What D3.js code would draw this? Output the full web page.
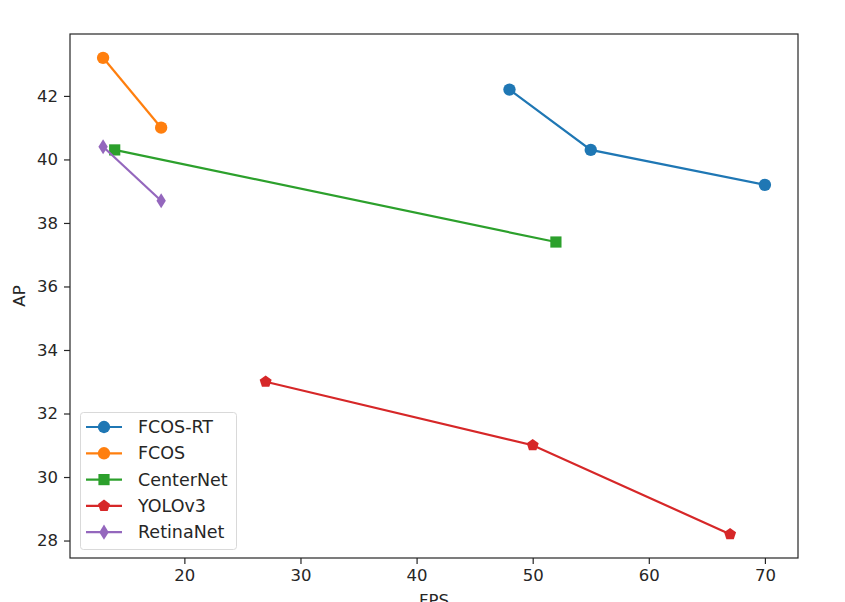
<!DOCTYPE html>
<html><head><meta charset="utf-8">
<script src="https://cdn.jsdelivr.net/npm/d3@7"></script>
<style>body{margin:0;background:#fff}svg{display:block}text{font-family:"DejaVu Sans",sans-serif}</style>
</head><body><svg id="c" width="845" height="602"></svg>
<script>
const seriesNames = ["FCOS-RT","FCOS","CenterNet","YOLOv3","RetinaNet"];
const fcosRT = [[48,42.2],[55,40.3],[70,39.2]];
const fcos = [[13,43.2],[18,41.0]];
const centerNet = [[14,40.3],[52,37.4]];
const yolov3 = [[27,33.0],[50,31.0],[67,28.2]];
const retinaNet = [[13,40.4],[18,38.7]];
const xTicks = [20,30,40,50,60,70];
const yTicks = [28,30,32,34,36,38,40,42];

const colors = ["#1f77b4","#ff7f0e","#2ca02c","#d62728","#9467bd"];
const markers = ["circle","circle","square","pentagon","diamond"];
const data = [fcosRT,fcos,centerNet,yolov3,retinaNet];

const svg = d3.select("#c");
const L=70,R=798,T=34,B=558;
const x = d3.scaleLinear().domain([10.15,72.85]).range([L,R]);
const y = d3.scaleLinear().domain([27.45,43.95]).range([B,T]);

function markerPath(type){
  if(type==="circle") return d3.symbol(d3.symbolCircle,120)();
  if(type==="square") return "M-5.6,-5.6H5.6V5.6H-5.6Z";
  if(type==="pentagon"){
    const r=6.3;let p=[];
    for(let i=0;i<5;i++){const a=-Math.PI/2+i*2*Math.PI/5;p.push([r*Math.cos(a),r*Math.sin(a)]);}
    return "M"+p.map(d=>d.join(",")).join("L")+"Z";
  }
  if(type==="diamond") return "M0,-7.6L4.7,0L0,7.6L-4.7,0Z";
}

// axes
const gx = svg.append("g").attr("transform",`translate(0,${B})`)
  .call(d3.axisBottom(x).tickValues(xTicks).tickSize(6).tickPadding(5).tickFormat(d3.format("d")));
const gy = svg.append("g").attr("transform",`translate(${L},0)`)
  .call(d3.axisLeft(y).tickValues(yTicks).tickSize(6).tickPadding(6).tickFormat(d3.format("d")));
[gx,gy].forEach(g=>{g.select(".domain").remove();g.selectAll("text").attr("font-size",16.5).attr("fill","#262626");g.selectAll("line").attr("stroke","#262626").attr("stroke-width",1.2);});

// data
const line = d3.line().x(d=>x(d[0])).y(d=>y(d[1]));
data.forEach((s,i)=>{
  svg.append("path").attr("d",line(s)).attr("fill","none").attr("stroke",colors[i]).attr("stroke-width",2.2);
  svg.selectAll(null).data(s).enter().append("path")
    .attr("d",markerPath(markers[i])).attr("transform",d=>`translate(${x(d[0])},${y(d[1])})`)
    .attr("fill",colors[i]);
});

svg.append("rect").attr("x",L).attr("y",T).attr("width",R-L).attr("height",B-T)
  .attr("fill","none").attr("stroke","#262626").attr("stroke-width",1.2);

// labels
svg.append("text").attr("x",(L+R)/2).attr("y",606).attr("text-anchor","middle").attr("font-size",16.5).attr("fill","#262626").text("FPS");
svg.append("text").attr("transform",`translate(25,296) rotate(-90)`).attr("text-anchor","middle").attr("font-size",16.5).attr("fill","#262626").text("AP");

// legend
const lg = svg.append("g");
lg.append("rect").attr("x",80.5).attr("y",412.5).attr("width",156).attr("height",137).attr("rx",3)
  .attr("fill","#fff").attr("fill-opacity",0.8).attr("stroke","#d9d9d9");
seriesNames.forEach((n,i)=>{
  const yy=427+i*26.3;
  lg.append("line").attr("x1",86).attr("x2",122).attr("y1",yy).attr("y2",yy).attr("stroke",colors[i]).attr("stroke-width",2.2);
  lg.append("path").attr("d",markerPath(markers[i])).attr("transform",`translate(104,${yy})`).attr("fill",colors[i]);
  lg.append("text").attr("x",138).attr("y",yy+6).attr("font-size",17.5).attr("fill","#262626").text(n);
});
</script></body></html>
